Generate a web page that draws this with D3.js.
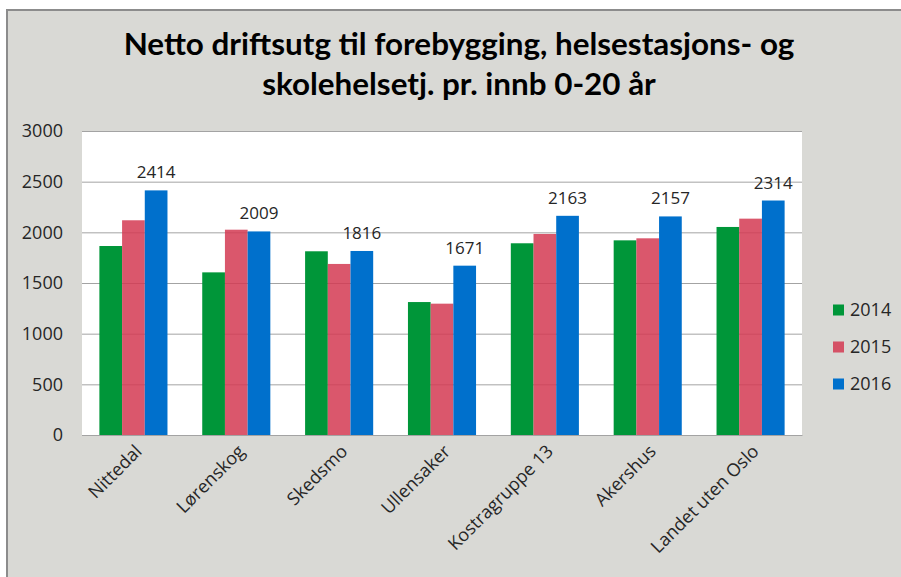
<!DOCTYPE html>
<html>
<head>
<meta charset="utf-8">
<script src="https://cdn.jsdelivr.net/npm/d3@7"></script>
<style>
  body { margin: 0; background: #ffffff; }
  svg { display: block; }
</style>
</head>
<body>
<div id="main"></div>
<script>
const titleLines = ['Netto driftsutg til forebygging, helsestasjons- og', 'skolehelsetj. pr. innb 0-20 år'];
const regions = ['Nittedal', 'Lørenskog', 'Skedsmo', 'Ullensaker', 'Kostragruppe 13', 'Akershus', 'Landet uten Oslo'];
const years = ['2014', '2015', '2016'];
const values2014 = [1865, 1605, 1813, 1312, 1892, 1921, 2053];
const values2015 = [2119, 2026, 1688, 1296, 1984, 1941, 2135];
const values2016 = [2414, 2009, 1816, 1671, 2163, 2157, 2314];
const yTicks = [0, 500, 1000, 1500, 2000, 2500, 3000];
const colors = ['#009639', '#d33a52', '#0070cc'];
const opacities = [1, 0.85, 1];

const width = 901;
const height = 577;
const plot = { left: 82, right: 802, top: 131, bottom: 435 };
const labelFont = '"Open Sans", sans-serif';

const seriesValues = [values2014, values2015, values2016];
const rows = regions.map((r, i) => {
    return { region: r, values: years.map((yr, j) => ({ year: yr, value: seriesValues[j][i] })) };
});

const svg = d3.select('#main').append('svg')
    .attr('width', width)
    .attr('height', height);

// outer chart panel
svg.append('rect')
    .attr('x', 7)
    .attr('y', 10)
    .attr('width', width)
    .attr('height', height)
    .attr('fill', '#d9d9d5')
    .attr('stroke', '#8c8c8c')
    .attr('stroke-width', 2);

// title, sized to the reference width
const title = svg.append('text')
    .attr('text-anchor', 'middle')
    .style('font-family', 'Lato, sans-serif')
    .style('font-weight', 700)
    .style('font-size', '30px')
    .attr('fill', '#000');
title.selectAll('tspan')
    .data(titleLines)
    .enter()
    .append('tspan')
    .attr('x', 459)
    .attr('y', (d, i) => 55 + i * 40)
    .text(d => d);
const firstLen = title.select('tspan').node().getComputedTextLength();
title.style('font-size', (30 * 671 / firstLen) + 'px');

// plot area
svg.append('rect')
    .attr('x', plot.left)
    .attr('y', plot.top)
    .attr('width', plot.right - plot.left)
    .attr('height', plot.bottom - plot.top)
    .attr('fill', '#ffffff');

const x0 = d3.scaleBand()
    .domain(regions)
    .range([plot.left, plot.right])
    .paddingInner(0.338)
    .paddingOuter(0.169);
const x1 = d3.scaleBand()
    .domain(years)
    .range([0, x0.bandwidth()]);
const y = d3.scaleLinear()
    .domain([0, 3000])
    .range([plot.bottom, plot.top]);
const color = d3.scaleOrdinal().domain(years).range(colors);
const opacity = d3.scaleOrdinal().domain(years).range(opacities);

// y axis with gridlines
const yAxis = svg.append('g')
    .attr('transform', `translate(${plot.left}, 0)`)
    .call(d3.axisLeft(y)
        .tickValues(yTicks)
        .tickFormat(d3.format('d'))
        .tickSize(-(plot.right - plot.left))
        .tickPadding(19));
yAxis.select('.domain').remove();
yAxis.selectAll('.tick line')
    .attr('stroke', '#a3a3a3');
yAxis.selectAll('.tick text')
    .style('font-family', labelFont)
    .style('font-size', '18px')
    .attr('fill', '#262626');

// bars
const groups = svg.append('g')
    .selectAll('g')
    .data(rows)
    .enter()
    .append('g')
    .attr('transform', d => `translate(${x0(d.region)}, 0)`);
groups.selectAll('rect')
    .data(d => d.values)
    .enter()
    .append('rect')
    .attr('x', d => x1(d.year))
    .attr('y', d => y(d.value))
    .attr('width', x1.bandwidth())
    .attr('height', d => y(0) - y(d.value))
    .attr('fill', d => color(d.year))
    .attr('fill-opacity', d => opacity(d.year));

// value labels for 2016
groups.append('text')
    .attr('x', x1('2016') + x1.bandwidth() / 2)
    .attr('y', d => y(d.values[2].value) - 12)
    .attr('text-anchor', 'middle')
    .style('font-family', labelFont)
    .style('font-size', '17px')
    .attr('fill', '#262626')
    .text(d => d.values[2].value);

// x axis
const xAxis = svg.append('g')
    .attr('transform', `translate(0, ${plot.bottom})`)
    .call(d3.axisBottom(x0).tickSize(0).tickSizeOuter(0));
xAxis.select('.domain')
    .attr('stroke', '#a3a3a3');
xAxis.selectAll('.tick text')
    .style('font-family', labelFont)
    .style('font-size', '18px')
    .attr('fill', '#262626')
    .attr('text-anchor', 'end')
    .attr('x', 0)
    .attr('y', 0)
    .attr('dy', '0.35em')
    .attr('transform', 'translate(5, 13) rotate(-45)');

// legend
const legend = svg.append('g')
    .selectAll('g')
    .data(years)
    .enter()
    .append('g')
    .attr('transform', (d, i) => `translate(833, ${310 + i * 37})`);
legend.append('rect')
    .attr('x', 0)
    .attr('y', -5.5)
    .attr('width', 11)
    .attr('height', 11)
    .attr('fill', d => color(d))
    .attr('fill-opacity', d => opacity(d));
legend.append('text')
    .attr('x', 17)
    .attr('dy', '0.35em')
    .style('font-family', labelFont)
    .style('font-size', '18px')
    .attr('fill', '#262626')
    .text(d => d);
</script>
</body>
</html>
